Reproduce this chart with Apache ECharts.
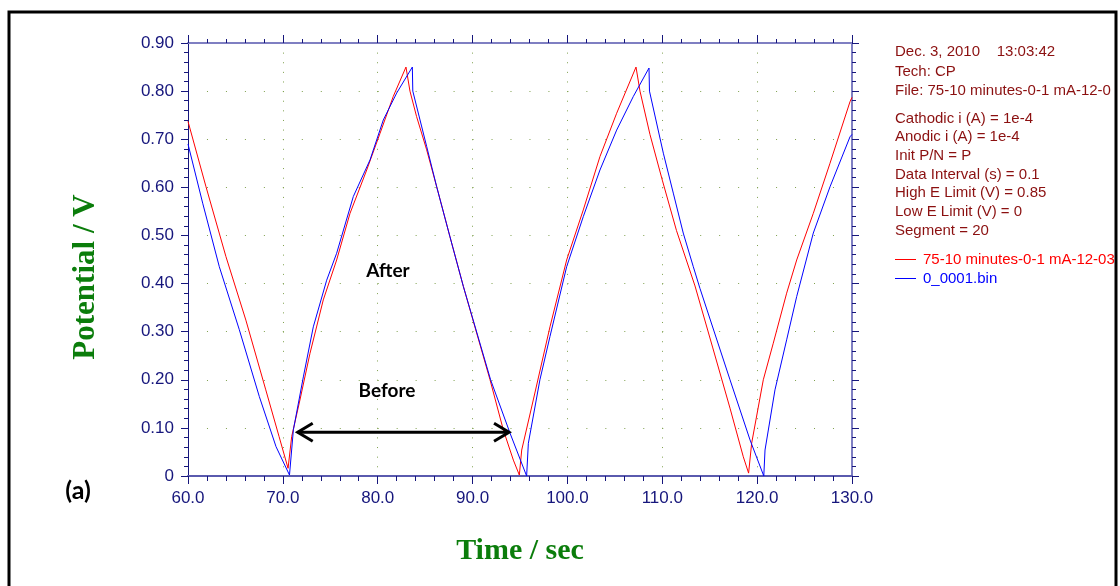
<!DOCTYPE html>
<html>
<head>
<meta charset="utf-8">
<script src="https://cdn.jsdelivr.net/npm/echarts@6/dist/echarts.min.js"></script>
<style>
  html, body { margin: 0; padding: 0; background: #fff; }
  #chart { width: 1120px; height: 586px; }
</style>
</head>
<body>
<div id="chart"></div>
<script>
// values (time in s, potential in V)
var redTime = [60.0, 61.9, 64.0, 66.1, 68.2, 69.6, 70.55,
  70.93, 71.8, 72.86, 74.26, 75.67, 77.08, 78.84, 80.24, 81.64, 82.98,
  83.4, 84.1, 85.16, 86.22, 87.62, 89.03, 91.84, 93.24, 94.3, 94.93,
  95.18, 96.4, 98.16, 99.92, 101.67, 103.43, 105.19, 107.23,
  107.65, 108.7, 110.0, 111.5, 113.45, 115.3, 117.14, 118.54, 119.1,
  119.42, 120.65, 121.7, 123.11, 124.17, 125.92, 127.68, 129.79, 130.0];
var redVolt = [0.737, 0.601, 0.456, 0.324, 0.179, 0.082, 0.016,
  0.082, 0.158, 0.255, 0.366, 0.449, 0.546, 0.636, 0.712, 0.789, 0.85,
  0.80, 0.747, 0.678, 0.601, 0.497, 0.394, 0.20, 0.096, 0.033, 0.002,
  0.054, 0.158, 0.31, 0.449, 0.553, 0.664, 0.754, 0.85,
  0.80, 0.71, 0.615, 0.51, 0.395, 0.268, 0.141, 0.04, 0.006,
  0.068, 0.20, 0.276, 0.38, 0.449, 0.546, 0.65, 0.778, 0.787];

var blueTime = [60.0, 61.55, 63.3, 65.41, 67.52, 69.28, 70.7,
  71.11, 72.16, 73.21, 74.62, 75.67, 77.43, 79.19, 80.59, 82.0, 83.65,
  83.7, 84.46, 85.16, 86.22, 87.62, 89.03, 91.9, 93.95, 95.7,
  95.88, 97.1, 98.16, 99.92, 101.67, 103.43, 105.19, 106.95, 108.6,
  108.65, 110.11, 111.16, 112.21, 113.27, 113.97, 117.14, 119.25, 120.7,
  120.83, 121.88, 123.11, 124.17, 125.92, 127.68, 129.79, 130.0];
var blueVolt = [0.69, 0.567, 0.435, 0.304, 0.165, 0.061, 0.002,
  0.096, 0.206, 0.31, 0.407, 0.463, 0.581, 0.657, 0.74, 0.796, 0.85,
  0.80, 0.74, 0.685, 0.601, 0.497, 0.394, 0.20, 0.089, 0.0,
  0.068, 0.20, 0.29, 0.435, 0.539, 0.636, 0.719, 0.789, 0.848,
  0.80, 0.671, 0.588, 0.505, 0.435, 0.39, 0.20, 0.075, 0.0,
  0.054, 0.179, 0.283, 0.373, 0.505, 0.601, 0.705, 0.71];

var seriesNames = ['75-10 minutes-0-1 mA-12-03', '0_0001.bin'];
var seriesColors = ['#ff0000', '#0000ff'];

var xRange = [60, 130, 10];
var yRange = [0, 0.9, 0.1];

var infoHeader = ['Dec. 3, 2010    13:03:42', 'Tech: CP', 'File: 75-10 minutes-0-1 mA-12-0'];
var infoParams = ['Cathodic i (A) = 1e-4', 'Anodic i (A) = 1e-4', 'Init P/N = P',
  'Data Interval (s) = 0.1', 'High E Limit (V) = 0.85', 'Low E Limit (V) = 0', 'Segment = 20'];

// double arrow between the two minima (data coords)
var arrowFrom = [71.46, 0.091];
var arrowTo = [93.95, 0.091];

function pairs(xs, ys) {
  return xs.map(function (x, i) { return [x, ys[i]]; });
}

var navy = '#16167c';
var lavender = '#7f7fc2';
var dotColor = '#7fa04e';
var labelFont = 'Liberation Sans, Arial, sans-serif';

var chart = echarts.init(document.getElementById('chart'));

var option = {
  animation: false,
  backgroundColor: '#fff',
  grid: { left: 188, right: 268, top: 43, bottom: 110 },
  legend: {
    orient: 'vertical',
    left: 895,
    top: 252,
    padding: 0,
    icon: 'rect',
    itemWidth: 21,
    itemHeight: 1,
    itemGap: 4,
    data: seriesNames.map(function (n, i) {
      return { name: n, textStyle: { color: seriesColors[i] } };
    }),
    textStyle: { fontSize: 15, fontFamily: labelFont, lineHeight: 15, padding: [0, 0, 0, 2] }
  },
  xAxis: [{
    type: 'value', min: xRange[0], max: xRange[1], interval: xRange[2], position: 'bottom',
    axisLine: { show: true, onZero: false, lineStyle: { color: '#5a5aae', width: 2 } },
    axisTick: { show: true, length: 8, lineStyle: { color: navy } },
    minorTick: { show: true, splitNumber: 5, length: 5, lineStyle: { color: navy } },
    axisLabel: {
      color: navy, fontSize: 17, fontFamily: labelFont, margin: 14,
      formatter: function (v) { return v.toFixed(1); }
    },
    splitLine: { show: true, lineStyle: { color: dotColor, width: 1, type: [1, 8.62] } },
    name: 'Time / sec', nameLocation: 'middle', nameGap: 60,
    nameTextStyle: { color: '#0b7d0b', fontSize: 30, fontWeight: 'bold', fontFamily: 'Liberation Serif, Times New Roman, serif' }
  }, {
    type: 'value', min: xRange[0], max: xRange[1], interval: xRange[2], position: 'top',
    axisLine: { show: true, onZero: false, lineStyle: { color: lavender, width: 2 } },
    axisTick: { show: true, length: 8, lineStyle: { color: navy } },
    minorTick: { show: true, splitNumber: 5, length: 4, lineStyle: { color: navy } },
    axisLabel: { show: false },
    splitLine: { show: false }
  }],
  yAxis: [{
    type: 'value', min: yRange[0], max: yRange[1], interval: yRange[2], position: 'left',
    axisLine: { show: true, onZero: false, lineStyle: { color: navy, width: 1 } },
    axisTick: { show: true, length: 7, lineStyle: { color: navy } },
    minorTick: { show: true, splitNumber: 5, length: 4, lineStyle: { color: navy } },
    axisLabel: {
      color: navy, fontSize: 17, fontFamily: labelFont, margin: 14,
      formatter: function (v) { return v === 0 ? '0' : v.toFixed(2); }
    },
    splitLine: { show: true, lineStyle: { color: dotColor, width: 1, type: [1, 17.97] } }
  }, {
    type: 'value', min: yRange[0], max: yRange[1], interval: yRange[2], position: 'right',
    axisLine: { show: true, onZero: false, lineStyle: { color: lavender, width: 2 } },
    axisTick: { show: true, length: 7, lineStyle: { color: navy } },
    minorTick: { show: true, splitNumber: 5, length: 4, lineStyle: { color: navy } },
    axisLabel: { show: false },
    splitLine: { show: false }
  }],
  series: [{
    name: seriesNames[0], type: 'line', showSymbol: false, symbol: 'none',
    color: seriesColors[0], lineStyle: { width: 1, color: seriesColors[0] },
    data: pairs(redTime, redVolt)
  }, {
    name: seriesNames[1], type: 'line', showSymbol: false, symbol: 'none',
    color: seriesColors[1], lineStyle: { width: 1, color: seriesColors[1] },
    data: pairs(blueTime, blueVolt)
  }]
};

chart.setOption(option);

// annotations, placed once the scales exist
var a = chart.convertToPixel({ gridIndex: 0 }, arrowFrom);
var b = chart.convertToPixel({ gridIndex: 0 }, arrowTo);
var arrowStyle = { stroke: '#000', lineWidth: 3, fill: null };
var textFill = '#8b1010';

chart.setOption({
  graphic: [
    {
      type: 'rect', z: 100, silent: true,
      shape: { x: 9, y: 12, width: 1107, height: 600 },
      style: { fill: null, stroke: '#000', lineWidth: 3 }
    },
    {
      type: 'text', x: 86, y: 277, rotation: Math.PI / 2,
      style: {
        text: 'Potential / V', fill: '#0b7d0b', align: 'center', verticalAlign: 'middle',
        font: 'bold 31px "Liberation Serif", "Times New Roman", serif'
      }
    },
    {
      type: 'text', x: 895, y: 42,
      style: { text: infoHeader.join('\n'), fill: textFill, font: '15px "Liberation Sans", Arial, sans-serif', lineHeight: 19.6, verticalAlign: 'top' }
    },
    {
      type: 'text', x: 895, y: 109,
      style: { text: infoParams.join('\n'), fill: textFill, font: '15px "Liberation Sans", Arial, sans-serif', lineHeight: 18.73, verticalAlign: 'top' }
    },
    {
      type: 'text', x: 388, y: 271,
      style: { text: 'After', fill: '#000', align: 'center', verticalAlign: 'middle', font: 'bold 19px Lato, sans-serif' }
    },
    {
      type: 'text', x: 387, y: 391,
      style: { text: 'Before', fill: '#000', align: 'center', verticalAlign: 'middle', font: 'bold 19px Lato, sans-serif' }
    },
    {
      type: 'text', x: 78, y: 491,
      style: { text: '(a)', fill: '#000', align: 'center', verticalAlign: 'middle', font: 'bold 25px Lato, sans-serif' }
    },
    {
      type: 'line', z: 50,
      shape: { x1: a[0] + 1, y1: a[1], x2: b[0] - 1, y2: b[1] },
      style: arrowStyle
    },
    {
      type: 'polyline', z: 50,
      shape: { points: [[a[0] + 16, a[1] - 9], [a[0] + 1, a[1]], [a[0] + 16, a[1] + 9]] },
      style: arrowStyle
    },
    {
      type: 'polyline', z: 50,
      shape: { points: [[b[0] - 16, b[1] - 9], [b[0] - 1, b[1]], [b[0] - 16, b[1] + 9]] },
      style: arrowStyle
    }
  ]
});
</script>
</body>
</html>
